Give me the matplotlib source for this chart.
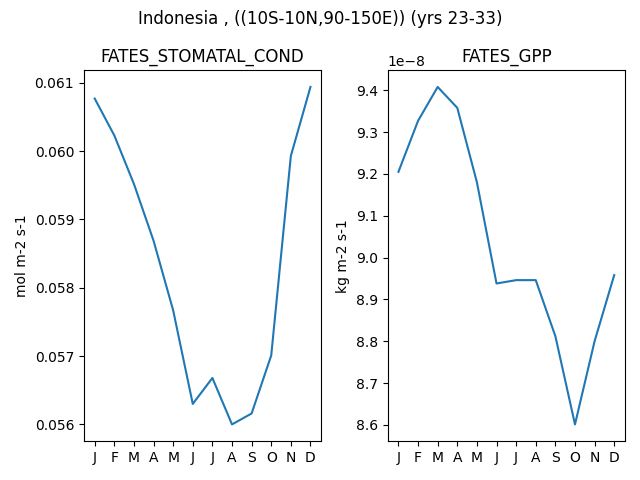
import matplotlib
matplotlib.use("Agg")
import matplotlib.pyplot as plt
import numpy as np

months = ['J', 'F', 'M', 'A', 'M', 'J', 'J', 'A', 'S', 'O', 'N', 'D']
stomatal_cond = [0.06077, 0.06023, 0.05952, 0.05869, 0.05767, 0.0563,
                 0.05668, 0.0560, 0.05616, 0.05701, 0.05993, 0.06094]
gpp = [9.205e-8, 9.327e-8, 9.408e-8, 9.358e-8, 9.18e-8, 8.938e-8,
       8.946e-8, 8.946e-8, 8.812e-8, 8.601e-8, 8.80e-8, 8.958e-8]

fig, axes = plt.subplots(1, 2, figsize=(6.4, 4.8), dpi=100)
x = np.arange(len(months))

axes[0].plot(x, stomatal_cond)
axes[0].set_title('FATES_STOMATAL_COND')
axes[0].set_ylabel('mol m-2 s-1')

axes[1].plot(x, gpp)
axes[1].set_title('FATES_GPP')
axes[1].set_ylabel('kg m-2 s-1')

for ax in axes:
    ax.set_xticks(x)
    ax.set_xticklabels(months)

fig.suptitle('Indonesia , ((10S-10N,90-150E)) (yrs 23-33)')
plt.tight_layout()
fig.savefig('out.png')
